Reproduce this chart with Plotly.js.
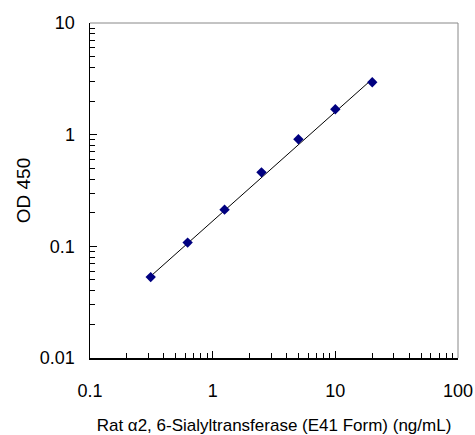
<!DOCTYPE html>
<html><head><meta charset="utf-8">
<script src="https://cdn.plot.ly/plotly-3.0.1.min.js"></script>
<style>html,body{margin:0;padding:0;background:#fff}#chart{width:475px;height:435px}</style>
</head><body><div id="chart"></div>
<script>
const concentration = [0.3125, 0.625, 1.25, 2.5, 5, 10, 20];
const od450 = [0.053, 0.108, 0.213, 0.46, 0.91, 1.69, 2.95];
const trendX = [0.3125, 20];
const trendY = [0.054, 3.15];

const font = {family: 'Liberation Sans, Arial, sans-serif', color: '#000'};
const traces = [
  {x: trendX, y: trendY, mode: 'lines', line: {color: '#000', width: 1}, hoverinfo: 'skip'},
  {x: concentration, y: od450, mode: 'markers',
   marker: {symbol: 'diamond', color: '#000080', size: 8, line: {width: 0}}}
];
const layout = {
  width: 475, height: 435,
  margin: {l: 90, r: 17, t: 23, b: 77},
  showlegend: false,
  paper_bgcolor: '#fff', plot_bgcolor: '#fff',
  font: Object.assign({size: 18}, font),
  xaxis: {type: 'log', range: [-1, 2], tickmode: 'linear', tick0: 0, dtick: 1,
    ticks: 'inside', ticklen: 7, tickcolor: '#000', showgrid: false, zeroline: false,
    showline: true, linecolor: '#000', linewidth: 1.5, ticklabelstandoff: 16,
    minor: {dtick: 'D1', ticks: 'inside', ticklen: 5, tickcolor: '#000', showgrid: false},
    tickfont: {size: 18},
    title: {text: 'Rat α2, 6-Sialyltransferase (E41 Form) (ng/mL)', font: {size: 17}, standoff: 20}},
  yaxis: {type: 'log', range: [-2, 1], tickmode: 'linear', tick0: 0, dtick: 1,
    ticks: 'inside', ticklen: 7, tickcolor: '#000', showgrid: false, zeroline: false,
    showline: true, linecolor: '#000', linewidth: 1.5, ticklabelstandoff: 10,
    minor: {dtick: 'D1', ticks: 'inside', ticklen: 5, tickcolor: '#000', showgrid: false},
    tickfont: {size: 18},
    title: {text: 'OD 450', font: {size: 19}, standoff: 4}},
  shapes: [
    {type: 'line', xref: 'paper', yref: 'paper', x0: 0, x1: 1, y0: 1, y1: 1, line: {color: '#888', width: 1}},
    {type: 'line', xref: 'paper', yref: 'paper', x0: 1, x1: 1, y0: 0, y1: 1, line: {color: '#888', width: 1}}
  ]
};
Plotly.newPlot('chart', traces, layout, {displayModeBar: false, staticPlot: true});
</script></body></html>
